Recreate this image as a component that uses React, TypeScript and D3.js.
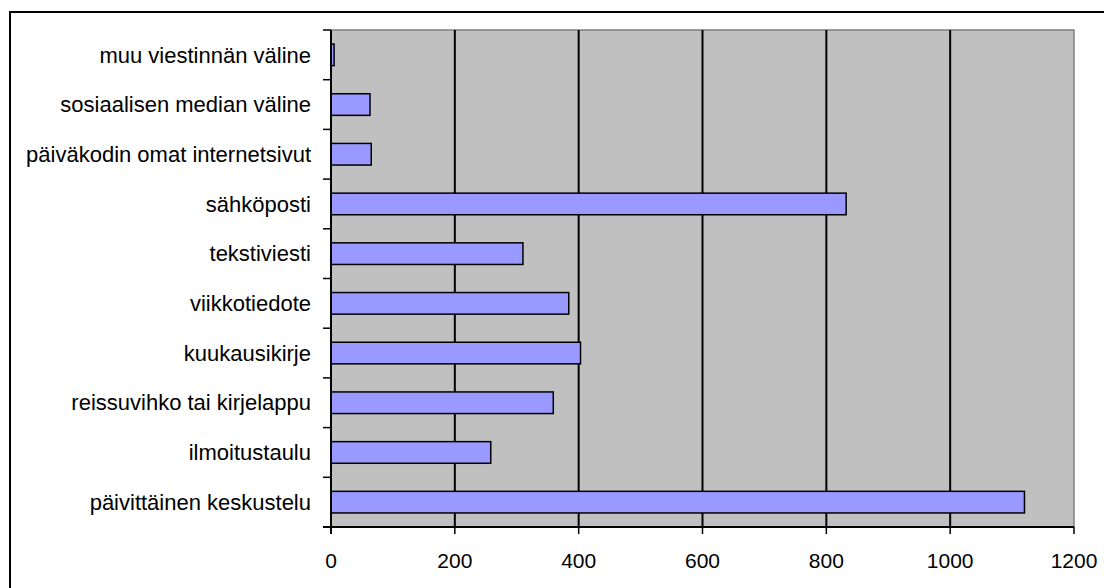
import React, { useEffect, useRef } from 'react';
import * as d3 from 'd3';

// categories from top to bottom
const categories = [
  'muu viestinnän väline',
  'sosiaalisen median väline',
  'päiväkodin omat internetsivut',
  'sähköposti',
  'tekstiviesti',
  'viikkotiedote',
  'kuukausikirje',
  'reissuvihko tai kirjelappu',
  'ilmoitustaulu',
  'päivittäinen keskustelu',
];
const values = [5, 63, 65, 832, 310, 384, 403, 359, 258, 1120];
const xTicks = [0, 200, 400, 600, 800, 1000, 1200];

const W = 1104;
const H = 588;

const App: React.FC = () => {
  const ref = useRef<SVGSVGElement>(null);

  useEffect(() => {
    const svg = d3.select(ref.current);
    svg.selectAll('*').remove();

    const left = 331, right = 1074, top = 30, bottom = 527;

    const x = d3.scaleLinear().domain([0, 1200]).range([left, right]);
    const y = d3.scaleBand<string>().domain(categories).range([top, bottom]).paddingInner(0.565).paddingOuter(0.2825);
    const band = (bottom - top) / categories.length;

    // outer chart border
    svg.append('rect')
      .attr('x', 10).attr('y', 12)
      .attr('width', W).attr('height', H)
      .attr('fill', '#fff').attr('stroke', '#000').attr('stroke-width', 2);

    // plot area
    svg.append('rect')
      .attr('x', left).attr('y', top)
      .attr('width', right - left).attr('height', bottom - top)
      .attr('fill', '#c0c0c0').attr('stroke', '#808080').attr('stroke-width', 1.5);

    // gridlines
    svg.append('g')
      .selectAll('line')
      .data(xTicks.filter(t => t > 0 && t < 1200))
      .enter()
      .append('line')
      .attr('x1', d => x(d)).attr('x2', d => x(d))
      .attr('y1', top).attr('y2', bottom)
      .attr('stroke', '#000').attr('stroke-width', 2);

    // bars
    svg.append('g')
      .selectAll('rect')
      .data(values)
      .enter()
      .append('rect')
      .attr('x', x(0))
      .attr('y', (d, i) => y(categories[i]) as number)
      .attr('width', d => x(d) - x(0))
      .attr('height', y.bandwidth())
      .attr('fill', '#9999ff')
      .attr('stroke', '#000')
      .attr('stroke-width', 1.5);

    // y axis
    svg.append('line')
      .attr('x1', left).attr('x2', left).attr('y1', top).attr('y2', bottom + 7)
      .attr('stroke', '#000').attr('stroke-width', 2);
    svg.append('g')
      .selectAll('line')
      .data(d3.range(categories.length + 1))
      .enter()
      .append('line')
      .attr('x1', left - 8).attr('x2', left)
      .attr('y1', i => top + i * band).attr('y2', i => top + i * band)
      .attr('stroke', '#000').attr('stroke-width', 1.5);

    svg.append('g')
      .selectAll('text')
      .data(categories)
      .enter()
      .append('text')
      .attr('x', 311)
      .attr('y', d => (y(d) as number) + y.bandwidth() / 2)
      .attr('dy', '0.35em')
      .attr('text-anchor', 'end')
      .attr('font-family', 'Liberation Sans, Arial, sans-serif')
      .attr('font-size', 22)
      .attr('fill', '#000')
      .text(d => d);

    // x axis
    svg.append('line')
      .attr('x1', left - 8).attr('x2', right).attr('y1', bottom).attr('y2', bottom)
      .attr('stroke', '#000').attr('stroke-width', 2);
    svg.append('g')
      .selectAll('line')
      .data(xTicks)
      .enter()
      .append('line')
      .attr('x1', d => x(d)).attr('x2', d => x(d))
      .attr('y1', bottom).attr('y2', bottom + 7)
      .attr('stroke', '#000').attr('stroke-width', 1.5);
    svg.append('g')
      .selectAll('text')
      .data(xTicks)
      .enter()
      .append('text')
      .attr('x', d => x(d))
      .attr('y', 561)
      .attr('dy', '0.35em')
      .attr('text-anchor', 'middle')
      .attr('font-family', 'Liberation Sans, Arial, sans-serif')
      .attr('font-size', 21)
      .attr('fill', '#000')
      .text(d => String(d));
  }, []);

  return (
    <svg
      ref={ref}
      width={W}
      height={H}
      style={{ position: 'absolute', left: 0, top: 0, background: '#fff' }}
    />
  );
};

export default App;
